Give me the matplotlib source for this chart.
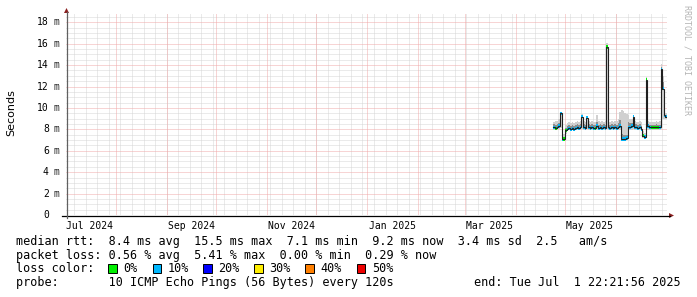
import numpy as np
import pandas as pd
import matplotlib
matplotlib.use('Agg')
import matplotlib.pyplot as plt
import matplotlib.dates as mdates
import matplotlib.transforms as mtransforms
from matplotlib.patches import Polygon, Rectangle
from matplotlib.lines import Line2D
from datetime import datetime

# ---------------- data ----------------
graph_start = datetime(2024, 7, 1, 22, 21, 56)
graph_end = datetime(2025, 7, 1, 22, 21, 56)
data_first_day = "2025-04-24"   # one value per day from here to Jul 1 2025

median_ms = [
    8.2, 8.1, 8.2, 8.3, 9.5, 7.1, 7.1, 7.9,
    8.0, 8.1, 8.0, 8.1, 8.0, 8.1, 8.2, 8.1, 8.2,
    9.2, 8.2, 8.1, 9.1, 8.2, 8.1, 8.2, 8.1, 8.1, 8.3,
    8.1, 8.2, 8.1, 8.2, 8.1, 15.7, 8.2, 8.1, 8.2, 8.1, 8.2, 8.1, 8.2,
    8.3, 7.1, 7.1, 7.1, 7.2, 8.2, 8.2, 8.3, 9.2, 8.2,
    8.2, 8.1, 8.2, 8.0, 7.4, 7.3, 12.6, 8.3, 8.2, 8.2,
    8.2, 8.2, 8.2, 8.2, 8.2, 13.6, 11.8, 9.3, 9.2,
]
loss_pct = [
    0.3, 0.0, 0.3, 0.5, 1.0, 0.4, 0.0, 0.0,
    0.3, 0.5, 0.3, 0.4, 0.6, 0.3, 0.4, 0.5, 0.3,
    0.8, 0.4, 0.3, 0.6, 0.4, 0.3, 0.5, 0.4, 0.0, 0.6,
    0.4, 0.3, 0.5, 0.4, 0.3, 0.0, 0.4, 0.5, 0.3, 0.4, 0.6, 0.3, 0.5,
    0.8, 1.2, 1.5, 1.0, 0.9, 0.6, 0.5, 0.7, 5.41, 0.4,
    0.3, 0.5, 0.4, 0.6, 0.0, 0.4, 0.0, 0.3, 0.3, 0.0,
    0.0, 0.0, 0.0, 0.0, 0.4, 0.8, 1.1, 0.5, 0.29,
]
ping_max = [
    8.7, 8.8, 8.8, 9.0, 9.6, 8.6, 7.6, 8.4,
    8.6, 8.7, 8.6, 8.7, 8.6, 8.7, 8.8, 8.7, 8.8,
    9.4, 8.8, 8.7, 9.2, 8.8, 8.7, 8.8, 8.7, 8.7, 9.3,
    8.8, 8.7, 8.8, 8.7, 8.8, 16.1, 8.8, 8.7, 8.8, 8.7, 8.8, 8.8, 9.0,
    9.6, 9.8, 9.7, 9.5, 9.4, 9.3, 9.0, 9.0, 9.3, 8.8,
    8.7, 8.7, 8.8, 8.7, 7.8, 7.7, 12.9, 8.8, 8.7, 8.7,
    8.7, 8.7, 8.8, 8.7, 8.8, 14.1, 13.0, 9.6, 9.5,
]
ping_q3 = [
    8.5, 8.4, 8.5, 8.6, 9.5, 7.3, 7.3, 8.1,
    8.3, 8.4, 8.3, 8.4, 8.3, 8.4, 8.5, 8.4, 8.5,
    9.3, 8.5, 8.4, 9.2, 8.5, 8.4, 8.5, 8.4, 8.4, 8.7,
    8.4, 8.5, 8.4, 8.5, 8.4, 15.9, 8.5, 8.4, 8.5, 8.4, 8.5, 8.4, 8.6,
    8.9, 7.6, 7.5, 7.5, 7.5, 8.7, 8.6, 8.6, 9.2, 8.5,
    8.5, 8.4, 8.5, 8.3, 7.6, 7.5, 12.7, 8.5, 8.4, 8.4,
    8.4, 8.4, 8.5, 8.4, 8.4, 13.8, 12.4, 9.4, 9.3,
]
ping_min = [
    7.9, 7.9, 7.9, 8.0, 8.1, 7.0, 7.0, 7.6,
    7.8, 7.9, 7.8, 7.9, 7.8, 7.9, 7.9, 7.9, 7.9,
    8.0, 7.9, 7.9, 8.0, 7.9, 7.9, 7.9, 7.9, 7.9, 7.9,
    7.9, 7.9, 7.9, 7.9, 7.9, 8.0, 7.9, 7.9, 7.9, 7.9, 7.9, 7.9, 7.9,
    7.9, 7.0, 7.0, 7.0, 7.0, 7.9, 7.9, 7.9, 8.0, 7.9,
    7.9, 7.9, 7.9, 7.8, 7.2, 7.1, 7.3, 7.9, 7.9, 7.9,
    7.9, 7.9, 7.9, 7.9, 7.9, 8.0, 9.0, 9.0, 9.0,
]

y_ticks = [0, 2, 4, 6, 8, 10, 12, 14, 16, 18]
x_labels = ["Jul 2024", "Sep 2024", "Nov 2024", "Jan 2025", "Mar 2025", "May 2025"]
x_label_dates = ["2024-07-16", "2024-09-16", "2024-11-16", "2025-01-16", "2025-03-16", "2025-05-16"]

loss_levels = [0, 10, 20, 30, 40, 50]
loss_names = ["0%", "10%", "20%", "30%", "40%", "50%"]
loss_colors = ["#00ee00", "#00b8ff", "#0000ff", "#ffee00", "#ff7f00", "#ee0000"]

stats_line1 = "median rtt:  8.4 ms avg  15.5 ms max  7.1 ms min  9.2 ms now  3.4 ms sd  2.5   am/s"
stats_line2 = "packet loss: 0.56 % avg  5.41 % max  0.00 % min  0.29 % now"
probe_line = "probe:       10 ICMP Echo Pings (56 Bytes) every 120s"
end_line = "end: Tue Jul  1 22:21:56 2025"

# ---------------- figure ----------------
W, H = 697, 297
fig = plt.figure(figsize=(W / 100, H / 100), dpi=100)
fig.patch.set_facecolor("white")


def fx(x):
    return x / W


def fy(y):
    return 1 - y / H


L, R, T, B = 66, 667, 13, 215
px_per_ms = (215 - 22.3) / 18.0
ax = fig.add_axes([fx(L), fy(B), (R - L) / W, (B - T) / H])
ax.set_facecolor("white")
for s in ax.spines.values():
    s.set_visible(False)
ax.set_xlim(graph_start, graph_end)
ax.set_ylim(0, (B - T) / px_per_ms)

MONO = "DejaVu Sans Mono"
dot = (0, (1, 1))
minor_c = "#d6d6d6"
major_c = "#f0aaaa"
glw = 0.72

# grid
for v in np.arange(0.5, 19, 0.5):
    if abs(v / 2 - round(v / 2)) > 1e-6:
        ax.axhline(v, color=minor_c, lw=glw, ls=dot, zorder=0.5)
for d in pd.date_range("2024-07-07", "2025-06-29", freq="7D"):
    ax.axvline(d, color=minor_c, lw=glw, ls=dot, zorder=0.5)
for v in y_ticks[1:]:
    ax.axhline(v, color=major_c, lw=glw, ls=dot, zorder=0.6)
for d in pd.date_range("2024-08-01", "2025-06-01", freq="MS"):
    ax.axvline(d, color=major_c, lw=glw, ls=dot, zorder=0.6)

# step arrays
n = len(median_ms)
starts = pd.date_range(data_first_day, periods=n, freq="D")
s_num = mdates.date2num(starts.to_pydatetime())
e_num = s_num + 1.0
e_num[-1] = min(e_num[-1], mdates.date2num(graph_end))
xs = np.empty(2 * n)
xs[0::2] = s_num
xs[1::2] = e_num


def st(v):
    return np.repeat(np.asarray(v, float), 2)


med = np.asarray(median_ms, float)
ax.fill_between(xs, st(ping_min), st(ping_max), color="#d0d0d0", lw=0, zorder=2)
ax.fill_between(xs, st(med - 0.1), st(ping_q3), color="#8e8e8e", lw=0, zorder=2.1)

# loss-coloured band around the median
sw = 0.16
loss = np.asarray(loss_pct, float)
cat = np.zeros(n, int)
for k in range(1, len(loss_levels)):
    cat[loss > loss_levels[k - 1]] = k
for k, c in enumerate(loss_colors):
    m = st(cat == k).astype(bool)
    if m.any():
        ax.fill_between(xs, st(med - sw), st(med + sw), where=m, color=c, lw=0, zorder=3)

ax.plot(xs, st(med), color="#202020", lw=0.8, zorder=4, solid_joinstyle="miter")

# ticks
ax.set_yticks([])
ytr = mtransforms.blended_transform_factory(fig.transFigure, ax.transData)
for v in y_ticks:
    ax.text(fx(48.8), v, f"{v}", transform=ytr, ha="right", va="center",
            fontsize=7, family=MONO, color="#000000", clip_on=False)
    if v:
        ax.text(fx(54.0), v, "m", transform=ytr, ha="left", va="center",
                fontsize=7, family=MONO, color="#222222", clip_on=False)

ax.set_xticks(pd.to_datetime(x_label_dates))
ax.set_xticklabels(x_labels, fontsize=7, family=MONO)
ax.tick_params(axis="x", length=0, pad=4)

# axes lines and arrows
idt = fig.transFigure
fig.add_artist(Line2D([fx(62), fx(670)], [fy(215.5), fy(215.5)], color="#000000", lw=0.9, transform=idt))
fig.add_artist(Line2D([fx(66.5), fx(66.5)], [fy(218), fy(12)], color="#606060", lw=0.9, transform=idt))
arrow_c = "#8b2020"
fig.add_artist(Polygon([[fx(64), fy(13)], [fx(69), fy(13)], [fx(66.5), fy(8)]], closed=True,
                       color=arrow_c, lw=0, transform=idt))
fig.add_artist(Polygon([[fx(669), fy(213)], [fx(669), fy(218)], [fx(674), fy(215.5)]], closed=True,
                       color=arrow_c, lw=0, transform=idt))

# y label
fig.text(fx(11), fy(113), "Seconds", rotation=90, ha="center", va="center", fontsize=8,
         family="DejaVu Sans")

# watermark
fig.text(fx(686.5), fy(60), "RRDTOOL / TOBI OETIKER", rotation=270, ha="center", va="center",
         fontsize=6, family=MONO, color="#b4b4b4")

# legend / stats
FS = 8.5
fig.text(fx(16), fy(241.7), stats_line1, ha="left", va="center", fontsize=FS, family=MONO)
fig.text(fx(16), fy(255.3), stats_line2, ha="left", va="center", fontsize=FS, family=MONO)
fig.text(fx(16), fy(269), "loss color:", ha="left", va="center", fontsize=FS, family=MONO)
box_x = [108.3, 152.7, 203.3, 254.3, 305.3, 356.7]
for bx, name, c in zip(box_x, loss_names, loss_colors):
    fig.add_artist(Rectangle((fx(bx), fy(273.3)), 8.4 / W, 9 / H, facecolor=c,
                             edgecolor="#000000", lw=0.7, transform=idt))
    fig.text(fx(bx + 15), fy(269), name, ha="left", va="center", fontsize=FS, family=MONO)
fig.text(fx(16), fy(282.7), probe_line, ha="left", va="center", fontsize=FS, family=MONO)
fig.text(fx(680.5), fy(282.7), end_line, ha="right", va="center", fontsize=FS, family=MONO)

fig.savefig("out.png", dpi=100, facecolor="white")
